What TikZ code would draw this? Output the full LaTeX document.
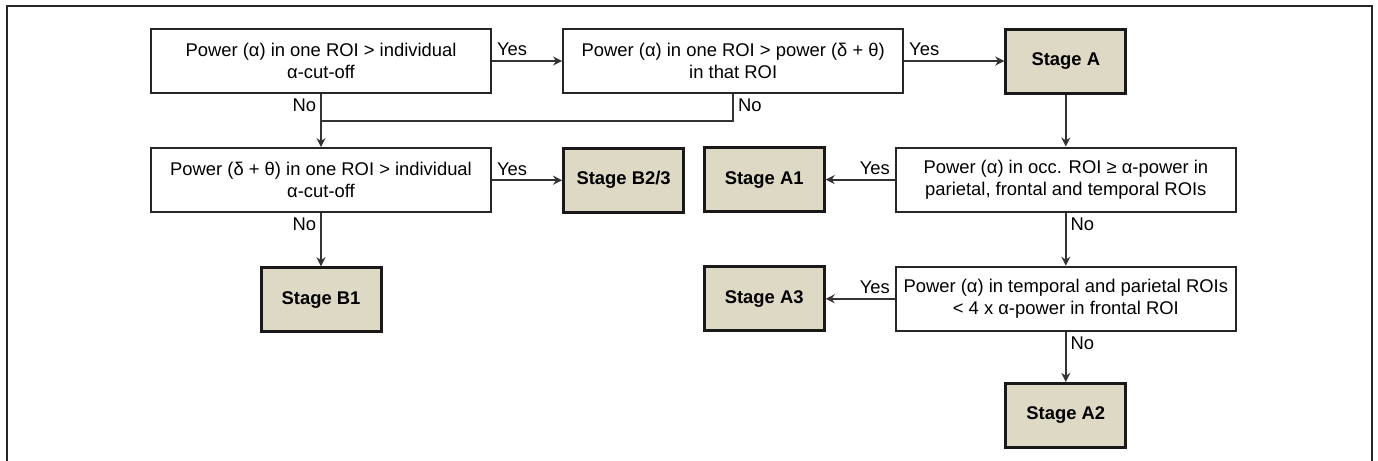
\documentclass[tikz,border=0pt]{standalone}
\usepackage{fontspec}
\setmainfont{Liberation Sans}
\usetikzlibrary{arrows.meta,positioning,calc}
\definecolor{stagefill}{RGB}{221,217,196}

\begin{document}
\begin{tikzpicture}[
    node distance=26.5pt and 35pt,
    cond/.style={rectangle, draw=black!85, line width=1.1pt, fill=white, minimum width=170pt, minimum height=32pt, align=center, font=\fontsize{9.2}{11}\selectfont},
    stage/.style={rectangle, draw=black!90, line width=1.5pt, fill=stagefill, minimum width=60pt, minimum height=32pt, font=\fontsize{9.2}{11}\selectfont\bfseries},
    arrow/.style={->, line width=0.9pt, draw=black!80, >={Stealth[length=4.5pt,width=4.5pt]}},
    lbl/.style={font=\fontsize{9.2}{11}\selectfont, inner sep=2pt}
  ]
    \useasboundingbox (0,0) rectangle (689pt,-230.5pt);
    % frame, open at the bottom
    \draw[line width=1pt, black!85] (3.5pt,-231pt) -- (3.5pt,-3pt) -- (686pt,-3pt) -- (686pt,-231pt);

    \node[cond] (alphacut) at (160.5pt,-30.5pt) {Power (α) in one ROI > individual\\α-cut-off};
    \node[cond, right=of alphacut] (alpharoi) {Power (α) in one ROI > power (δ + θ)\\in that ROI};
    \node[stage, right=50pt of alpharoi] (stageA) {Stage A};

    \node[cond, below=of alphacut] (deltacut) {Power (δ + θ) in one ROI > individual\\α-cut-off};
    \node[stage, right=of deltacut] (stageB23) {Stage B2/3};
    \node[stage, below=of deltacut] (stageB1) {Stage B1};

    \node[cond, below=26pt of stageA] (occ) {Power (α) in occ. ROI ≥ α-power in\\parietal, frontal and temporal ROIs};
    \node[stage, left=34.5pt of occ] (stageA1) {Stage A1};
    \node[cond, below=of occ] (frontal) {Power (α) in temporal and parietal ROIs\\< 4 x α-power in frontal ROI};
    \node[stage, left=34.5pt of frontal] (stageA3) {Stage A3};
    \node[stage, below=25pt of frontal] (stageA2) {Stage A2};

    \coordinate (join) at ($(alphacut.south)!0.5!(deltacut.north)$);

    \draw[arrow] (alphacut) -- node[lbl, above right, pos=0] {Yes} (alpharoi);
    \draw[arrow] (alpharoi) -- node[lbl, above right, pos=0] {Yes} (stageA);
    \draw[arrow] (alphacut) -- node[lbl, below left, pos=0] {No} (deltacut);
    \draw[line width=0.9pt, draw=black!80] (alpharoi.south) node[lbl, below right] {No} |- (join);
    \draw[arrow] (deltacut) -- node[lbl, above right, pos=0] {Yes} (stageB23);
    \draw[arrow] (deltacut) -- node[lbl, below left, pos=0] {No} (stageB1);
    \draw[arrow] (stageA) -- (occ);
    \draw[arrow] (occ) -- node[lbl, above left, pos=0] {Yes} (stageA1);
    \draw[arrow] (occ) -- node[lbl, below right, pos=0] {No} (frontal);
    \draw[arrow] (frontal) -- node[lbl, above left, pos=0] {Yes} (stageA3);
    \draw[arrow] (frontal) -- node[lbl, below right, pos=0] {No} (stageA2);
  \end{tikzpicture}
\end{document}
